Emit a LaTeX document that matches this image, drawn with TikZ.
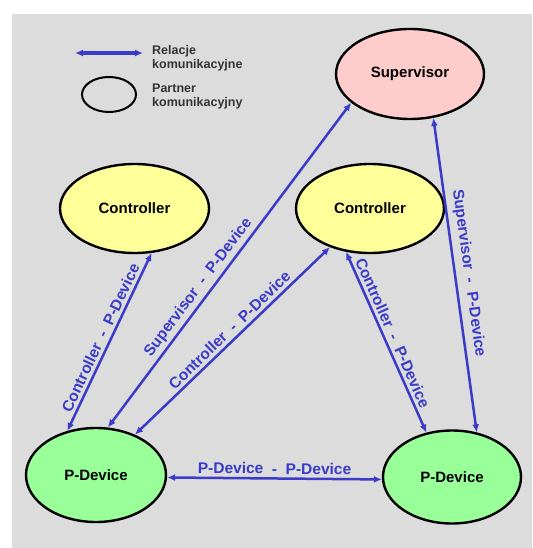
\documentclass[tikz,border=0pt]{standalone}
\usepackage{fontspec}
\setmainfont{Liberation Sans}
\usetikzlibrary{shapes.geometric,arrows.meta}
\definecolor{bg}{HTML}{DCDCDC}
\definecolor{relblue}{HTML}{3B3BC9}
\definecolor{supfill}{HTML}{FFCCCC}
\definecolor{ctlfill}{HTML}{FFFF99}
\definecolor{devfill}{HTML}{99FF99}
\definecolor{legendgray}{HTML}{333333}

\begin{document}
\begin{tikzpicture}[x=1pt,y=-1pt,
  partner/.style={ellipse, draw=black, line width=2.4pt, inner sep=0pt,
    font=\fontsize{15}{18}\selectfont\bfseries},
  relation/.style={draw=relblue, line width=2.5pt,
    {Latex[length=8pt,width=7pt]}-{Latex[length=8pt,width=7pt]}},
  rellabel/.style={text=relblue, font=\fontsize{15.5}{18}\selectfont\bfseries,
    sloped, inner sep=3pt},
  legendtext/.style={anchor=base west, inner sep=0pt,
    font=\fontsize{12.5}{14}\selectfont\bfseries, text=legendgray}]

% canvas and background panel
\useasboundingbox (0,0) rectangle (532,548);
\fill[bg] (12,14) rectangle (532,548);

% legend
\coordinate (legA) at (75,53);
\coordinate (legB) at (143,53);
\draw[relation, line width=3.5pt] (legA) -- (legB);
\node[legendtext] (leg1) at (152,55) {Relacje};
\node[legendtext] (leg2) at (152,69) {komunikacyjne};
\node[ellipse, draw=black, line width=2pt, inner sep=0pt,
      minimum width=54pt, minimum height=35pt] (legE) at (109,94.5) {};
\node[legendtext] (leg3) at (152,93) {Partner};
\node[legendtext] (leg4) at (152,107) {komunikacyjny};

% communication partners
\node[partner, fill=supfill, minimum width=148pt, minimum height=90pt] (sup) at (410,74) {Supervisor};
\node[partner, fill=ctlfill, minimum width=149pt, minimum height=89pt] (ctlL) at (134.5,208.5) {Controller};
\node[partner, fill=ctlfill, minimum width=148pt, minimum height=89pt] (ctlR) at (370,208.5) {Controller};
\node[partner, fill=devfill, minimum width=140pt, minimum height=94pt] (devL) at (96,475) {P-Device};
\node[partner, fill=devfill, minimum width=138pt, minimum height=93pt] (devR) at (452,477) {P-Device};

% communication relations
\draw[relation] (devL.123) -- node[rellabel, above] {Controller\ \ -\ \ P-Device} (ctlL.-69);
\draw[relation] (devL.76) -- node[rellabel, above, pos=0.41] {Supervisor\ \ -\ \ P-Device} (sup.206);
\draw[relation] (devL.46) -- node[rellabel, above, pos=0.52] {Controller\ \ -\ \ P-Device} (ctlR.224);
\draw[relation] (ctlR.241) -- node[rellabel, above, pos=0.47] {Controller\ \ -\ \ P-Device} (devR.120);
\draw[relation] (sup.-62) -- node[rellabel, above, inner sep=5pt] {Supervisor\ \ -\ \ P-Device} (devR.61);
\draw[relation] (devL.-2) -- node[rellabel, above] {P-Device\ \ -\ \ P-Device} (devR.182);
\end{tikzpicture}
\end{document}
